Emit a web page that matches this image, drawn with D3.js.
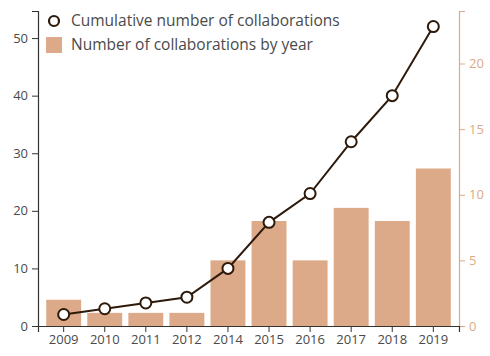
<!DOCTYPE html>
<html>
<head>
<meta charset="utf-8">
<script src="https://cdn.jsdelivr.net/npm/d3@7"></script>
<style>
  html, body { margin: 0; padding: 0; background: #fff; }
  svg { display: block; font-family: "Open Sans", sans-serif; }
</style>
</head>
<body>
<svg id="chart" width="490" height="356"></svg>
<script>
const years = ["2009", "2010", "2011", "2012", "2014", "2015", "2016", "2017", "2018", "2019"];
const perYear = [2, 1, 1, 1, 5, 8, 5, 9, 8, 12];
const cumulative = [2, 3, 4, 5, 10, 18, 23, 32, 40, 52];
const leftTicks = [0, 10, 20, 30, 40, 50];
const rightTicks = [0, 5, 10, 15, 20];
const legendLabels = ["Cumulative number of collaborations", "Number of collaborations by year"];

const barColor = "#dcaa88";
const lineColor = "#2e1a0b";
const textColor = "#4a4a4a";
const fontFam = "'Open Sans', sans-serif";

const svg = d3.select("#chart");
const m = { left: 38, right: 459, top: 11, bottom: 326 };

const x = d3.scaleBand().domain(years).range([m.left, m.right]).paddingInner(0.15).paddingOuter(0.2);
const yL = d3.scaleLinear().domain([0, 54.7]).range([m.bottom, m.top]);
const yR = d3.scaleLinear().domain([0, 24]).range([m.bottom, m.top]);

// bars
svg.append("g").selectAll("rect").data(years).join("rect")
  .attr("x", d => x(d))
  .attr("width", x.bandwidth())
  .attr("y", (d, i) => yR(perYear[i]))
  .attr("height", (d, i) => yR(0) - yR(perYear[i]))
  .attr("fill", barColor);

// axes
const axL = svg.append("g").attr("transform", `translate(${m.left},0)`)
  .call(d3.axisLeft(yL).tickValues(leftTicks).tickSize(6).tickPadding(4));
axL.select(".domain").attr("stroke", "#333").attr("stroke-width", 1.2);
axL.selectAll(".tick line").attr("stroke", "#333");
axL.selectAll("text").attr("fill", textColor).style("font-size", "13px").style("font-family", fontFam);

const axR = svg.append("g").attr("transform", `translate(${m.right},0)`)
  .call(d3.axisRight(yR).tickValues(rightTicks).tickSize(6).tickPadding(4));
axR.select(".domain").attr("stroke", barColor).attr("stroke-width", 1.2);
axR.selectAll(".tick line").attr("stroke", barColor);
axR.selectAll("text").attr("fill", barColor).style("font-size", "13px").style("font-family", fontFam);

const axB = svg.append("g").attr("transform", `translate(0,${m.bottom})`)
  .call(d3.axisBottom(x).tickSize(6).tickPadding(3).tickSizeOuter(6));
axB.select(".domain").attr("stroke", "#333").attr("stroke-width", 1.2);
axB.selectAll(".tick line").attr("stroke", "#333");
axB.selectAll("text").attr("fill", textColor).style("font-size", "13px").style("font-family", fontFam);

// line
const line = d3.line()
  .x((d, i) => x(years[i]) + x.bandwidth() / 2)
  .y(d => yL(d));
svg.append("path").datum(cumulative)
  .attr("d", line)
  .attr("fill", "none")
  .attr("stroke", lineColor)
  .attr("stroke-width", 2);
svg.append("g").selectAll("circle").data(cumulative).join("circle")
  .attr("cx", (d, i) => x(years[i]) + x.bandwidth() / 2)
  .attr("cy", d => yL(d))
  .attr("r", 5.5)
  .attr("fill", "#fff")
  .attr("stroke", lineColor)
  .attr("stroke-width", 2);

// legend
const lg = svg.append("g");
lg.append("circle").attr("cx", 54).attr("cy", 21).attr("r", 5).attr("fill", "#fff")
  .attr("stroke", lineColor).attr("stroke-width", 2.2);
lg.append("rect").attr("x", 46).attr("y", 37).attr("width", 16).attr("height", 16).attr("fill", barColor);
lg.selectAll("text").data(legendLabels).join("text")
  .attr("x", 71)
  .attr("y", (d, i) => 21 + i * 24)
  .attr("dy", "0.35em")
  .attr("fill", textColor)
  .style("font-size", "15.5px")
  .style("font-family", fontFam)
  .text(d => d);
</script>
</body>
</html>
